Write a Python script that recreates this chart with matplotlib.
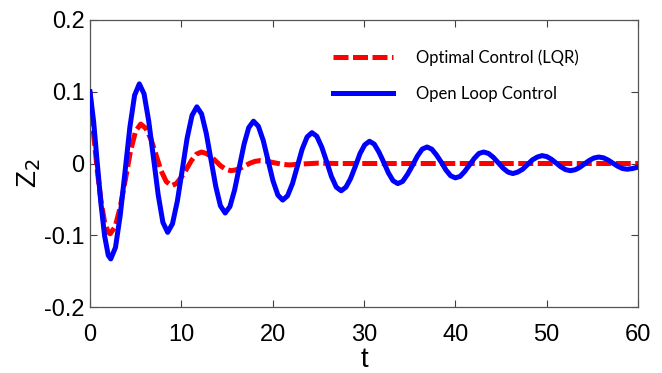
import matplotlib
matplotlib.use("Agg")
import matplotlib.pyplot as plt

# Open loop control (blue)
t_open = [0.0, 0.4, 0.8, 1.2, 1.6, 2.0, 2.27,
          2.79, 3.31, 3.84, 4.36, 4.88, 5.4,
          5.92, 6.43, 6.95, 7.47, 7.98, 8.5,
          9.03, 9.57, 10.10, 10.63, 11.17, 11.7,
          12.22, 12.73, 13.25, 13.77, 14.28, 14.8,
          15.32, 15.83, 16.35, 16.87, 17.38, 17.9,
          18.43, 18.97, 19.50, 20.03, 20.57, 21.1,
          21.63, 22.17, 22.70, 23.23, 23.77, 24.3,
          24.83, 25.37, 25.90, 26.43, 26.97, 27.5,
          28.02, 28.53, 29.05, 29.57, 30.08, 30.6,
          31.12, 31.63, 32.15, 32.67, 33.18, 33.7,
          34.23, 34.77, 35.30, 35.83, 36.37, 36.9,
          37.42, 37.93, 38.45, 38.97, 39.48, 40.0,
          40.52, 41.03, 41.55, 42.07, 42.58, 43.1,
          43.63, 44.17, 44.70, 45.23, 45.77, 46.3,
          46.83, 47.37, 47.90, 48.43, 48.97, 49.5,
          50.02, 50.53, 51.05, 51.57, 52.08, 52.6,
          53.12, 53.63, 54.15, 54.67, 55.18, 55.7,
          56.22, 56.73, 57.25, 57.77, 58.28, 58.8,
          59.4, 60.0]
z_open = [0.100, 0.058, 0.000, -0.056, -0.101, -0.128, -0.133,
          -0.117, -0.072, -0.011, 0.050, 0.095, 0.111,
          0.097, 0.059, 0.008, -0.044, -0.082, -0.096,
          -0.084, -0.052, -0.009, 0.035, 0.067, 0.079,
          0.069, 0.042, 0.005, -0.032, -0.059, -0.069,
          -0.060, -0.037, -0.005, 0.027, 0.050, 0.059,
          0.052, 0.032, 0.004, -0.024, -0.044, -0.051,
          -0.045, -0.028, -0.004, 0.020, 0.037, 0.043,
          0.038, 0.023, 0.003, -0.018, -0.033, -0.038,
          -0.033, -0.021, -0.004, 0.014, 0.026, 0.031,
          0.027, 0.016, 0.002, -0.013, -0.024, -0.028,
          -0.025, -0.015, -0.003, 0.010, 0.020, 0.023,
          0.020, 0.012, 0.002, -0.009, -0.017, -0.020,
          -0.018, -0.011, -0.002, 0.007, 0.014, 0.016,
          0.014, 0.0085, 0.001, -0.0065, -0.012, -0.014,
          -0.012, -0.008, -0.0015, 0.005, 0.009, 0.011,
          0.0096, 0.0058, 0.0005, -0.0048, -0.0086, -0.010,
          -0.0087, -0.0053, -0.0005, 0.0043, 0.0077, 0.009,
          0.0079, 0.0048, 0.0005, -0.0038, -0.0069, -0.008,
          -0.007, -0.005]

# Optimal control LQR (red)
t_lqr = [0.0, 0.4, 0.8, 1.2, 1.6, 2.0, 2.2,
         2.76, 3.32, 3.88, 4.43, 4.99, 5.55,
         6.11, 6.67, 7.23, 7.78, 8.34, 8.9,
         9.45, 10.0, 10.55, 11.1, 11.65, 12.2,
         12.73, 13.27, 13.8, 14.33, 14.87, 15.4,
         15.93, 16.47, 17.0, 17.53, 18.07, 18.6,
         19.4, 20.2, 21.0, 21.8, 23.5, 25.0, 27.0, 35.0, 45.0, 60.0]
z_lqr = [0.100, 0.040, -0.010, -0.052, -0.082, -0.096, -0.098,
         -0.088, -0.060, -0.022, 0.017, 0.045, 0.055,
         0.049, 0.034, 0.012, -0.010, -0.025, -0.031,
         -0.028, -0.019, -0.008, 0.004, 0.013, 0.016,
         0.014, 0.0095, 0.003, -0.0035, -0.008, -0.010,
         -0.009, -0.0065, -0.003, 0.0005, 0.003, 0.004,
         0.003, 0.001, -0.001, -0.002, -0.0005, 0.0005, 0.0, 0.0, 0.0, 0.0]

x_ticks = [0, 10, 20, 30, 40, 50, 60]
y_ticks = [-0.2, -0.1, 0, 0.1, 0.2]
y_tick_labels = ["-0.2", "-0.1", "0", "0.1", "0.2"]
labels = ["Optimal Control (LQR)", "Open Loop Control"]

fig = plt.figure(figsize=(6.62, 3.73), dpi=100)
ax = fig.add_axes([90/662, 1-307/373, (638-90)/662, (307-20)/373])

ax.plot(t_lqr, z_lqr, color="#ff0000", lw=3.6, dashes=(3.0, 0.9),
        label=labels[0], zorder=2)
ax.plot(t_open, z_open, color="#0000ff", lw=3.6, label=labels[1], zorder=3)

ax.set_xlim(0, 60)
ax.set_ylim(-0.2, 0.2)
ax.set_xticks(x_ticks)
ax.set_yticks(y_ticks)
ax.set_yticklabels(y_tick_labels)

tickfont = "Liberation Sans"
for lab in ax.get_xticklabels() + ax.get_yticklabels():
    lab.set_fontfamily(tickfont)
    lab.set_fontsize(17)
ax.tick_params(axis="both", direction="in", length=5, width=0.8, color="#404040",
               top=True, right=True)
ax.tick_params(axis="x", pad=12)
ax.tick_params(axis="y", pad=4)
for s in ax.spines.values():
    s.set_color("#555555")
    s.set_linewidth(0.9)

ax.set_xlabel("t", fontfamily=tickfont, fontsize=20, labelpad=1)
ax.set_ylabel("Z$_2$", fontfamily=tickfont, fontsize=20, rotation=90)
ax.yaxis.set_label_coords((43 - 90) / 548, (307 - 173) / 287)

leg = ax.legend(loc="upper left", bbox_to_anchor=((333-90)/548, 1-(49-20)/287),
                frameon=False, handlelength=3.6, handletextpad=1.4,
                labelspacing=1.2, borderpad=0, borderaxespad=0,
                prop={"family": "Lato", "size": 12})

fig.savefig("out.png", dpi=100)
